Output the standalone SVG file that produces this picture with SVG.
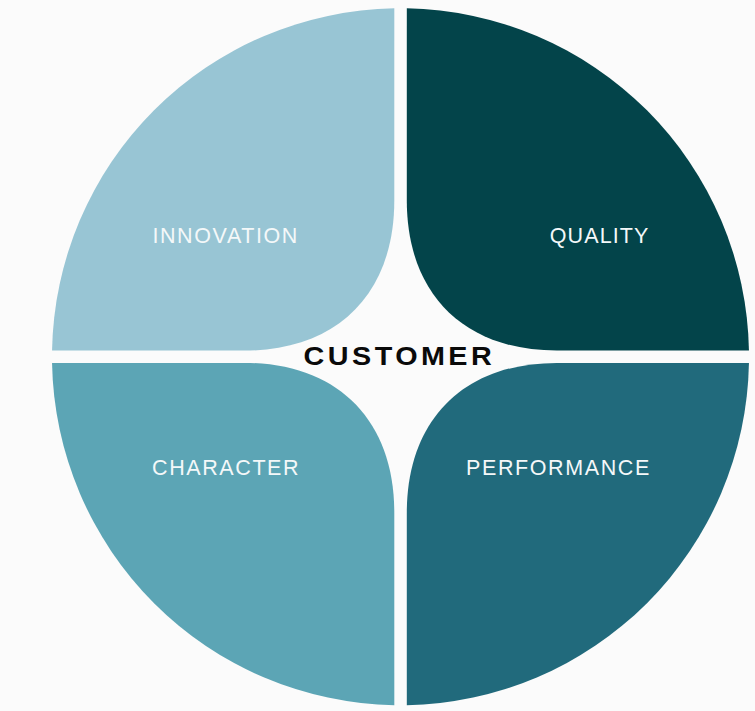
<svg xmlns="http://www.w3.org/2000/svg" width="755" height="711" viewBox="0 0 755 711">
  <style>
    .seg-label { font-family: "Liberation Sans", Arial, sans-serif; font-size: 21.5px; fill: #F4F8F9; letter-spacing: 1.6px; }
    .center-label { font-family: "Liberation Sans", Arial, sans-serif; font-size: 25px; font-weight: bold; fill: #0A0A0A; letter-spacing: 3px; }
  </style>
  <rect x="0" y="0" width="755" height="711" fill="#FBFBFB"/>
  <g id="innovation">
    <path d="M 394.3 8.3 L 394.3 200.6 C 394.3 293.6 337.3 350.6 244.3 350.6 L 52.05 350.6 A 348.5 348.5 0 0 1 394.3 8.3 Z" fill="#98C5D4"/>
    <text class="seg-label" x="152.4" y="242.7">INNOVATION</text>
  </g>
  <g id="quality">
    <path d="M 406.8 8.3 A 348.5 348.5 0 0 1 748.95 350.6 L 556.8 350.6 C 463.8 350.6 406.8 293.6 406.8 200.6 Z" fill="#03444A"/>
    <text class="seg-label" x="549.8" y="242.7" style="letter-spacing:1.1px">QUALITY</text>
  </g>
  <g id="character">
    <path d="M 52.05 362.9 L 244.3 362.9 C 337.3 362.9 394.3 419.9 394.3 512.9 L 394.3 705.2 A 348.5 348.5 0 0 1 52.05 362.9 Z" fill="#5CA5B5"/>
    <text class="seg-label" x="152" y="475">CHARACTER</text>
  </g>
  <g id="performance">
    <path d="M 556.8 362.9 L 748.95 362.9 A 348.5 348.5 0 0 1 406.8 705.2 L 406.8 512.9 C 406.8 419.9 463.8 362.9 556.8 362.9 Z" fill="#216A7C"/>
    <text class="seg-label" x="466" y="475">PERFORMANCE</text>
  </g>
  <g id="customer">
    <text class="center-label" transform="translate(303.6 365) scale(1.15 1)" x="0" y="0">CUSTOMER</text>
  </g>
  <g id="connectors"></g>
</svg>
